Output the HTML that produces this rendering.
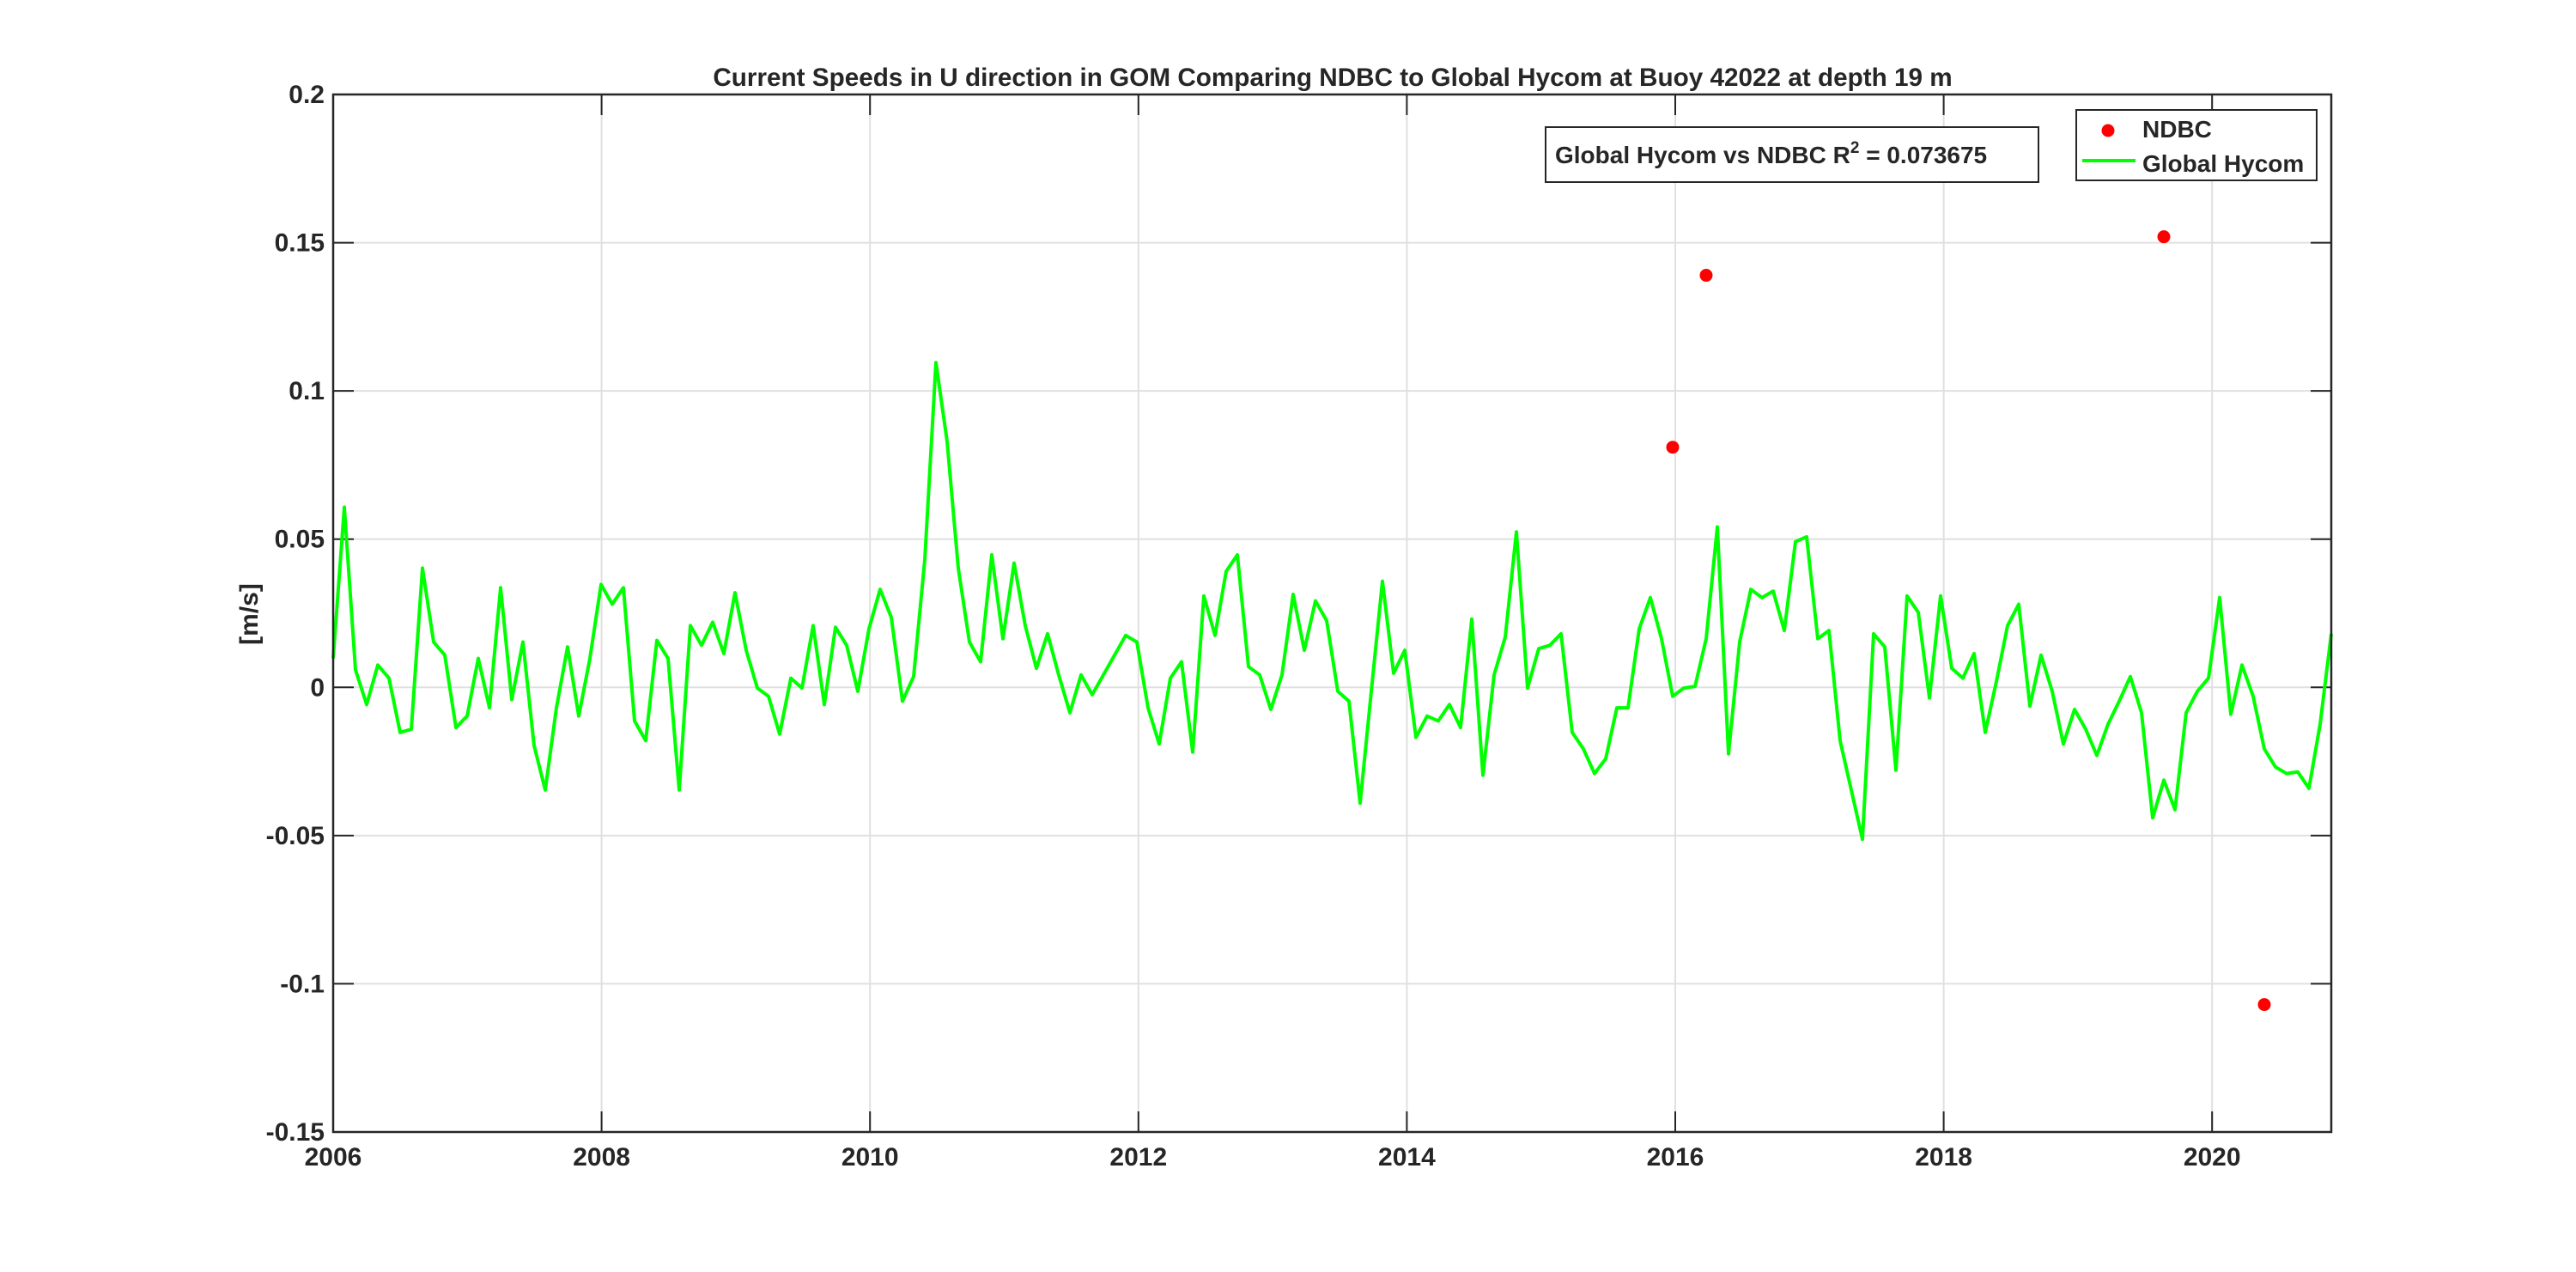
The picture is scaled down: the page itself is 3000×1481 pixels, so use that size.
<!DOCTYPE html>
<html><head><meta charset="utf-8"><style>
body{margin:0;background:#fff}
svg{display:block}
text{font-family:"Liberation Sans",Arial,sans-serif;font-weight:bold;fill:#262626}
</style></head><body>
<svg id="s" width="3000" height="1481" viewBox="0 0 3000 1481" xmlns="http://www.w3.org/2000/svg">
<rect width="3000" height="1481" fill="#fff"/>
<g id="grid" stroke="#e0e0e0" stroke-width="2"></g>
<g id="ticks" stroke="#262626" stroke-width="2"></g>
<polyline id="line" fill="none" stroke="#00ff00" stroke-width="4" stroke-linejoin="round"/>
<g id="dots" fill="#ff0000"></g>
<rect x="388" y="110" width="2327" height="1208" fill="none" stroke="#262626" stroke-width="2.5"/>
<g id="labels" font-size="30"></g>
<text x="1552" y="100" font-size="29.7" text-anchor="middle" fill="#000">Current Speeds in U direction in GOM Comparing NDBC to Global Hycom at Buoy  42022  at depth  19 m</text>
<text transform="translate(300,715) rotate(-90)" font-size="30" text-anchor="middle">[m/s]</text>
<rect x="1800" y="148" width="574" height="64" fill="#fff" stroke="#262626" stroke-width="2"/>
<text x="1811" y="190" font-size="28" fill="#000">Global Hycom vs NDBC R<tspan font-size="19" dy="-12">2</tspan><tspan dy="12"> = 0.073675</tspan></text>
<rect x="2418" y="128" width="280" height="82" fill="#fff" stroke="#262626" stroke-width="2"/>
<circle cx="2455" cy="152" r="7.5" fill="#ff0000"/>
<text x="2495" y="160" font-size="28" fill="#000">NDBC</text>
<line x1="2425" y1="187" x2="2487" y2="187" stroke="#00ff00" stroke-width="4"/>
<text x="2495" y="200" font-size="28" fill="#000">Global Hycom</text>
</svg>
<script>
var L=388,R=2715,T=110,B=1318;
function Y(v){return T+(0.2-v)*(B-T)/0.35}
function X(yr){return L+(yr-2006)*156.3}
var ns="http://www.w3.org/2000/svg";
function el(p,n,a,t){var e=document.createElementNS(ns,n);for(var k in a)e.setAttribute(k,a[k]);if(t)e.textContent=t;document.getElementById(p).appendChild(e);}
var yt=[0.2,0.15,0.1,0.05,0,-0.05,-0.1,-0.15],yl=["0.2","0.15","0.1","0.05","0","-0.05","-0.1","-0.15"];
yt.forEach(function(v,i){var y=Y(v);
 if(i>0&&i<7)el("grid","line",{x1:L,y1:y,x2:R,y2:y});
 el("ticks","line",{x1:L,y1:y,x2:L+24,y2:y});el("ticks","line",{x1:R,y1:y,x2:R-24,y2:y});
 el("labels","text",{x:L-10,y:y+10,"text-anchor":"end"},yl[i]);});
for(var yr=2006;yr<=2020;yr+=2){var x=X(yr);
 if(yr>2006)el("grid","line",{x1:x,y1:T,x2:x,y2:B});
 el("ticks","line",{x1:x,y1:B,x2:x,y2:B-24});el("ticks","line",{x1:x,y1:T,x2:x,y2:T+24});
 el("labels","text",{x:x,y:1357,"text-anchor":"middle"},""+yr);}
var dy=[400,308,407,428,404,412,445,443,345,390,398,442,435,400,430,357,425,390,453,480,430,393,435,400,355,367,357,438,450,389,400,480,380,392,378,397,360,395,418,423,446,412,418,380,428,381,392,420,382,358,375,426,411,340,220,268,345,390,402,337,388,342,380,406,385,410,433,410,422,410,398,386,390,430,452,412,402,457,362,386,347,337,405,410,431,410,361,395,365,377,420,426,488,420,353,409,395,448,435,438,428,442,376,471,410,387,323,418,394,392,385,445,455,470,461,430,430,382,363,388,423,418,417,388,320,458,390,358,363,359,383,329,326,388,383,450,480,510,385,393,468,362,372,424,362,406,412,397,445,414,380,367,429,398,420,452,431,443,459,440,426,411,433,497,474,492,433,420,412,363,434,404,423,455,466,470,469,479,440,385];
var n=dy.length,pts=[];
for(var i=0;i<n;i++){var x=L+i*(R-L)/(n-1);var y=T+(dy[i]-57)*(B-T)/631;pts.push(x.toFixed(1)+","+y.toFixed(1));}
document.getElementById("line").setAttribute("points",pts.join(" "));
[[1948,0.081],[1987,0.139],[2520,0.152],[2637,-0.107]].forEach(function(p){el("dots","circle",{cx:p[0],cy:Y(p[1]),r:7.5});});
</script>
</body></html>
